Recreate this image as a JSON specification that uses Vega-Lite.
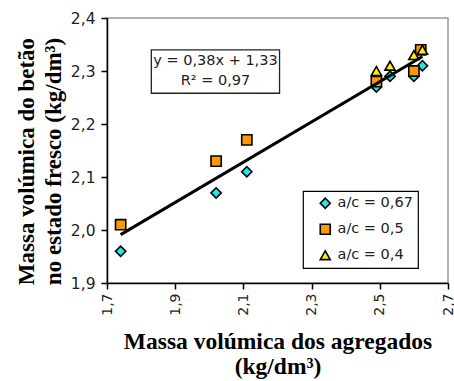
{
  "$schema": "https://vega.github.io/schema/vega-lite/v6.json",
  "width": 341,
  "height": 265,
  "autosize": "none",
  "padding": {"left": 107, "top": 18, "right": 6, "bottom": 98},
  "background": "white",
  "config": {
    "view": {"stroke": "#999999", "strokeWidth": 1.5},
    "axis": {
      "grid": false,
      "domainColor": "black",
      "domainWidth": 1.5,
      "tickColor": "black",
      "tickWidth": 1.5,
      "tickSize": 6,
      "labelFont": "DejaVu Sans",
      "labelColor": "#222222",
      "titleFont": "Liberation Serif",
      "titleFontWeight": "bold",
      "titleColor": "black",
      "titleFontSize": 23
    },
    "legend": {
      "orient": "none",
      "legendX": 196,
      "legendY": 173,
      "strokeColor": "black",
      "strokeWidth": 1.2,
      "fillColor": "white",
      "padding": 5,
      "symbolOffset": 10,
      "rowPadding": 9,
      "labelFont": "DejaVu Sans",
      "labelFontSize": 14.5,
      "labelColor": "#222222",
      "labelOffset": 5,
      "symbolStrokeColor": "black",
      "symbolStrokeWidth": 1.6,
      "symbolSize": 100
    }
  },
  "datasets": {
    "points": [
      {"agg": 1.74, "fresh": 1.96, "serie": "a/c = 0,67"},
      {"agg": 2.02, "fresh": 2.07, "serie": "a/c = 0,67"},
      {"agg": 2.11, "fresh": 2.11, "serie": "a/c = 0,67"},
      {"agg": 2.49, "fresh": 2.27, "serie": "a/c = 0,67"},
      {"agg": 2.53, "fresh": 2.29, "serie": "a/c = 0,67"},
      {"agg": 2.6, "fresh": 2.29, "serie": "a/c = 0,67"},
      {"agg": 2.625, "fresh": 2.31, "serie": "a/c = 0,67"},
      {"agg": 1.74, "fresh": 2.01, "serie": "a/c = 0,5"},
      {"agg": 2.02, "fresh": 2.13, "serie": "a/c = 0,5"},
      {"agg": 2.11, "fresh": 2.17, "serie": "a/c = 0,5"},
      {"agg": 2.49, "fresh": 2.28, "serie": "a/c = 0,5"},
      {"agg": 2.6, "fresh": 2.3, "serie": "a/c = 0,5"},
      {"agg": 2.62, "fresh": 2.34, "serie": "a/c = 0,5"},
      {"agg": 2.49, "fresh": 2.3, "serie": "a/c = 0,4"},
      {"agg": 2.53, "fresh": 2.31, "serie": "a/c = 0,4"},
      {"agg": 2.6, "fresh": 2.33, "serie": "a/c = 0,4"},
      {"agg": 2.625, "fresh": 2.34, "serie": "a/c = 0,4"}
    ],
    "trend": [
      {"agg": 1.74, "fresh": 1.9912},
      {"agg": 2.625, "fresh": 2.3275}
    ],
    "box": [
      {"x1": 1.83, "x2": 2.206, "y1": 2.258, "y2": 2.34}
    ],
    "eq": [
      {"t": "y = 0,38x + 1,33", "x": 2.018, "y": 2.318},
      {"t": "R² = 0,97", "x": 2.018, "y": 2.281}
    ]
  },
  "layer": [
    {
      "data": {"name": "box"},
      "mark": {"type": "rect", "fill": "white", "stroke": "#222222", "strokeWidth": 1.3},
      "encoding": {
        "x": {"field": "x1", "type": "quantitative", "scale": {"domain": [1.7, 2.7], "nice": false}},
        "x2": {"field": "x2"},
        "y": {"field": "y1", "type": "quantitative", "scale": {"domain": [1.9, 2.4], "nice": false}},
        "y2": {"field": "y2"}
      }
    },
    {
      "data": {"name": "eq"},
      "mark": {"type": "text", "font": "DejaVu Sans", "fontSize": 14.5, "color": "#222222", "baseline": "middle", "align": "center"},
      "encoding": {
        "x": {"field": "x", "type": "quantitative"},
        "y": {"field": "y", "type": "quantitative"},
        "text": {"field": "t"}
      }
    },
    {
      "data": {"name": "points"},
      "mark": {"type": "point", "filled": true, "stroke": "black", "strokeWidth": 1.6, "size": 105, "opacity": 1},
      "encoding": {
        "x": {
          "field": "agg", "type": "quantitative",
          "scale": {"domain": [1.7, 2.7], "nice": false},
          "axis": {
            "values": [1.7, 1.9, 2.1, 2.3, 2.5, 2.7],
            "labelExpr": "replace(format(datum.value, '.1f'), '.', ',')",
            "labelAngle": -90,
            "labelFontSize": 14,
            "labelPadding": 4,
            "title": ["Massa volúmica dos agregados", "(kg/dm³)"],
            "titleFontSize": 23.5,
            "titleLineHeight": 25,
            "titlePadding": 14
          }
        },
        "y": {
          "field": "fresh", "type": "quantitative",
          "scale": {"domain": [1.9, 2.4], "nice": false},
          "axis": {
            "values": [1.9, 2.0, 2.1, 2.2, 2.3, 2.4],
            "labelExpr": "replace(format(datum.value, '.1f'), '.', ',')",
            "labelFontSize": 15.5,
            "labelPadding": 6,
            "title": ["Massa volúmica do betão", "no estado fresco (kg/dm³)"],
            "titleLineHeight": 27,
            "titlePadding": 5,
            "titleY": 143
          }
        },
        "color": {
          "field": "serie", "type": "nominal",
          "scale": {"domain": ["a/c = 0,67", "a/c = 0,5", "a/c = 0,4"], "range": ["#1ee8e8", "#ff9900", "#ffee00"]},
          "legend": {"title": null}
        },
        "shape": {
          "field": "serie", "type": "nominal",
          "scale": {"domain": ["a/c = 0,67", "a/c = 0,5", "a/c = 0,4"], "range": ["diamond", "square", "triangle-up"]},
          "legend": {"title": null}
        }
      }
    },
    {
      "data": {"name": "trend"},
      "mark": {"type": "line", "color": "black", "strokeWidth": 3},
      "encoding": {
        "x": {"field": "agg", "type": "quantitative"},
        "y": {"field": "fresh", "type": "quantitative"}
      }
    }
  ]
}
